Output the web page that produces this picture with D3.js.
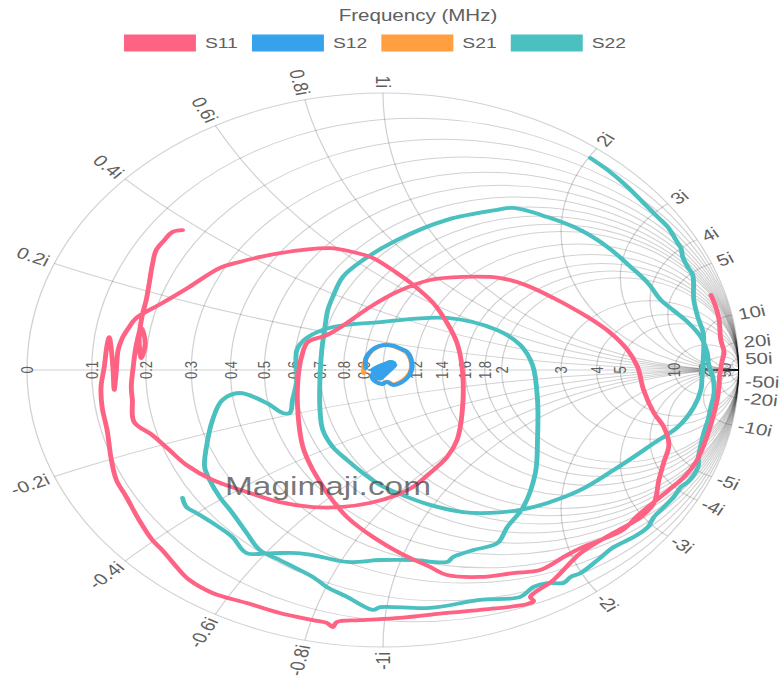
<!DOCTYPE html>
<html>
<head>
<meta charset="utf-8">
<script src="https://cdn.jsdelivr.net/npm/d3@7"></script>
<style>
  html, body { margin: 0; padding: 0; background: #fff; overflow: hidden; }
  text { font-family: "Liberation Sans", Arial, Helvetica, sans-serif; }
</style>
</head>
<body>
<svg id="chart"></svg>
<script>
// ---- Series and axis values (reflection coefficient, [real, imaginary]) ----
const seriesNames  = ["S11", "S12", "S21", "S22"];
const seriesColors = ["#ff6384", "#36a2eb", "#ff9f40", "#4bc0c0"];
const chartTitle = "Frequency (MHz)";
const watermark = "Magimaji.com";

const resistanceTicks = [0, 0.1, 0.2, 0.3, 0.4, 0.5, 0.6, 0.7, 0.8, 0.9, 1, 1.2, 1.4, 1.6, 1.8, 2, 3, 4, 5, 10, 20, 50];
const reactanceTicks  = [0.2, 0.4, 0.6, 0.8, 1, 2, 3, 4, 5, 10, 20, 50];

const s11 = [
  [0.921,0.271],[0.935,0.227],[0.944,0.181],[0.949,0.108],[0.958,0.065],[0.952,0.029],[0.946,-0.018],[0.941,-0.090],
  [0.930,-0.155],[0.918,-0.209],[0.901,-0.271],[0.879,-0.332],[0.848,-0.383],[0.803,-0.433],[0.758,-0.480],[0.718,-0.523],
  [0.673,-0.578],[0.611,-0.614],[0.555,-0.643],[0.513,-0.671],[0.442,-0.722],[0.366,-0.733],[0.273,-0.747],[0.180,-0.740],
  [0.132,-0.711],[0.048,-0.661],[-0.028,-0.603],[-0.101,-0.531],[-0.149,-0.458],[-0.197,-0.361],[-0.225,-0.278],[-0.239,-0.155],
  [-0.239,-0.036],[-0.228,0.051],[-0.211,0.101],[-0.158,0.126],[-0.101,0.170],[-0.037,0.227],[0.039,0.282],[0.132,0.325],
  [0.225,0.336],[0.330,0.332],[0.400,0.307],[0.479,0.260],[0.575,0.191],[0.639,0.134],[0.687,0.072],[0.715,0.011],
  [0.732,-0.072],[0.761,-0.155],[0.789,-0.206],[0.803,-0.271],[0.789,-0.332],[0.775,-0.397],[0.761,-0.480],[0.724,-0.531],
  [0.648,-0.588],[0.555,-0.661],[0.479,-0.758],[0.414,-0.819],[0.423,-0.834],[0.406,-0.845],[0.273,-0.866],[0.180,-0.877],
  [0.048,-0.895],[-0.065,-0.903],[-0.130,-0.910],[-0.141,-0.928],[-0.158,-0.913],[-0.197,-0.903],[-0.290,-0.877],[-0.383,-0.841],
  [-0.479,-0.805],[-0.544,-0.758],[-0.580,-0.711],[-0.620,-0.650],[-0.648,-0.614],[-0.685,-0.542],[-0.721,-0.458],[-0.749,-0.397],
  [-0.763,-0.325],[-0.775,-0.217],[-0.789,-0.134],[-0.792,-0.061],
  [-0.783,0.011],[-0.775,0.090],[-0.769,0.119],[-0.763,0.072],[-0.758,-0.007],[-0.755,-0.072],[-0.749,0.000],[-0.744,0.072],
  [-0.732,0.116],[-0.713,0.155],[-0.693,0.188],
  [-0.620,0.242],[-0.544,0.300],[-0.459,0.368],[-0.403,0.390],[-0.290,0.422],[-0.149,0.440],[-0.085,0.426],[-0.028,0.404],
  [0.039,0.350],[0.085,0.307],[0.141,0.242],[0.180,0.170],[0.208,0.097],[0.223,0.000],[0.223,-0.144],[0.208,-0.253],
  [0.180,-0.314],[0.132,-0.372],[0.085,-0.422],[0.039,-0.451],[-0.037,-0.480],[-0.121,-0.495],[-0.197,-0.495],[-0.290,-0.477],
  [-0.383,-0.440],[-0.479,-0.397],[-0.552,-0.343],[-0.600,-0.289],[-0.648,-0.235],[-0.699,-0.188],[-0.704,-0.108],[-0.707,-0.061],
  [-0.701,0.018],[-0.693,0.090],[-0.679,0.152],[-0.668,0.097],[-0.679,0.043],[-0.685,0.116],[-0.676,0.199],[-0.665,0.253],
  [-0.656,0.318],[-0.648,0.379],[-0.637,0.433],[-0.614,0.469],[-0.592,0.498],[-0.563,0.505]
];

const s12 = [
  [-0.048,0.007],[-0.048,0.043],[-0.031,0.072],[-0.011,0.087],[0.008,0.090],[0.031,0.087],[0.051,0.076],[0.068,0.065],
  [0.079,0.040],[0.082,0.011],[0.076,-0.014],[0.065,-0.032],[0.048,-0.047],[0.028,-0.054],[0.011,-0.043],[-0.003,-0.051],
  [-0.020,-0.043],[-0.031,-0.025],[-0.023,-0.004],[-0.003,0.014],[0.020,0.029],[0.031,0.025],[0.014,0.007],[-0.006,-0.011],
  [-0.017,-0.022],[0.003,0.004],[0.023,0.018],[0.008,-0.004],
  [-0.028,-0.014],[0.025,0.029],[-0.017,-0.029],[0.034,0.018],[-0.008,-0.032],[0.020,0.004],[-0.031,0.000],[0.014,0.025],
  [-0.020,-0.018],[0.028,0.011]
];

const s21 = [
  [-0.054,-0.011],[-0.052,0.025],[-0.031,0.070],[-0.011,0.085],[0.010,0.092],[0.031,0.085],[0.051,0.074],[0.066,0.063],
  [0.077,0.040],[0.080,0.011],[0.074,-0.014],[0.063,-0.030],[0.046,-0.045],[0.028,-0.052],[0.011,-0.042],[-0.003,-0.049],
  [-0.020,-0.041],[-0.031,-0.025]
];

const s22 = [
  [0.583,0.765],[0.631,0.722],[0.687,0.661],[0.732,0.603],[0.772,0.552],[0.800,0.516],[0.828,0.458],[0.837,0.440],
  [0.842,0.408],[0.856,0.372],[0.870,0.343],[0.873,0.253],[0.885,0.188],[0.899,0.137],[0.901,0.083],[0.899,0.029],
  [0.896,-0.029],
  [0.893,-0.072],[0.873,-0.134],[0.828,-0.206],[0.761,-0.264],[0.704,-0.314],[0.648,-0.361],[0.555,-0.433],[0.462,-0.480],
  [0.386,-0.505],[0.301,-0.516],[0.225,-0.513],[0.132,-0.487],[0.048,-0.448],[-0.008,-0.415],[-0.056,-0.372],[-0.101,-0.325],
  [-0.141,-0.278],[-0.169,-0.217],[-0.177,-0.144],[-0.177,-0.025],[-0.172,0.072],[-0.163,0.155],[-0.155,0.217],[-0.141,0.264],
  [-0.113,0.336],[-0.056,0.397],[0.039,0.469],[0.180,0.542],[0.321,0.578],[0.366,0.585],[0.462,0.552],[0.555,0.505],
  [0.631,0.444],[0.696,0.372],[0.744,0.314],[0.780,0.253],[0.814,0.217],[0.856,0.173],[0.893,0.119],[0.910,0.065],
  [0.915,0.018],[0.927,-0.029],[0.930,-0.083],[0.921,-0.134],[0.913,-0.181],[0.901,-0.227],[0.893,-0.271],[0.887,-0.307],
  [0.885,-0.350],[0.873,-0.379],[0.856,-0.404],[0.837,-0.422],
  [0.817,-0.458],[0.789,-0.495],[0.761,-0.531],[0.744,-0.567],[0.704,-0.603],[0.648,-0.639],[0.603,-0.686],[0.555,-0.733],
  [0.527,-0.747],[0.507,-0.769],[0.462,-0.769],[0.423,-0.783],[0.386,-0.819],[0.273,-0.830],[0.132,-0.859],[-0.008,-0.856],
  [-0.028,-0.866],[-0.101,-0.819],[-0.158,-0.783],[-0.197,-0.747],[-0.234,-0.722],[-0.290,-0.686],[-0.346,-0.650],[-0.383,-0.588],
  [-0.423,-0.516],[-0.459,-0.458],[-0.487,-0.397],[-0.501,-0.350],[-0.496,-0.278],[-0.479,-0.181],[-0.451,-0.108],[-0.403,-0.083],
  [-0.327,-0.119],[-0.282,-0.155],[-0.262,-0.155],[-0.254,-0.108],[-0.242,-0.036],[-0.242,0.072],[-0.214,0.116],[-0.141,0.155],
  [-0.008,0.173],[0.180,0.188],[0.321,0.144],[0.386,0.090],[0.420,0.018],[0.434,-0.108],[0.434,-0.253],[0.428,-0.372],
  [0.394,-0.495],[0.349,-0.567],[0.321,-0.625],[0.254,-0.650],[0.197,-0.675],[0.180,-0.693],[0.085,-0.686],[-0.008,-0.686],
  [-0.101,-0.693],[-0.197,-0.668],[-0.242,-0.661],[-0.310,-0.661],[-0.383,-0.661],[-0.423,-0.603],[-0.479,-0.552],[-0.524,-0.516],
  [-0.552,-0.495],[-0.563,-0.462]
];

// ---- Layout: the chart is drawn round and the whole canvas is stretched sideways ----
const SX = 356 / 277;          // horizontal stretch of the canvas
const H = 678, W = 782 / SX;
const cx = 383 / SX, cy = 370, R = 277;

const svg = d3.select("#chart")
  .attr("width", 782).attr("height", H)
  .attr("viewBox", `0 0 ${W} ${H}`)
  .attr("preserveAspectRatio", "none");

const gx = d3.scaleLinear().domain([-1, 1]).range([cx - R, cx + R]);
const gy = d3.scaleLinear().domain([-1, 1]).range([cy + R, cy - R]);

svg.append("defs").append("clipPath").attr("id", "unit")
  .append("circle").attr("cx", gx(0)).attr("cy", gy(0)).attr("r", R);

// ---- Grid ----
const gridColor = "rgba(0,0,0,0.18)";
const grid = svg.append("g").attr("clip-path", "url(#unit)")
  .attr("fill", "none").attr("stroke", gridColor).attr("stroke-width", 1);

// constant-resistance circles
grid.selectAll("circle.res").data(resistanceTicks.filter(r => r > 0)).join("circle")
  .attr("class", "res")
  .attr("cx", r => gx(r / (1 + r))).attr("cy", gy(0))
  .attr("r", r => gx(1 / (1 + r)) - gx(0));

// constant-reactance arcs
const reactAll = reactanceTicks.flatMap(x => [x, -x]);
grid.selectAll("circle.react").data(reactAll).join("circle")
  .attr("class", "react")
  .attr("cx", gx(1)).attr("cy", x => gy(1 / x))
  .attr("r", x => gx(1 / Math.abs(x)) - gx(0));

// real axis
grid.append("line")
  .attr("x1", gx(-1)).attr("x2", gx(1)).attr("y1", gy(0)).attr("y2", gy(0));

// outer rim
svg.append("circle").attr("cx", gx(0)).attr("cy", gy(0)).attr("r", R)
  .attr("fill", "none").attr("stroke", gridColor).attr("stroke-width", 1);

// ---- Real-axis labels ----
const labelColor = "#606060";
svg.append("g").selectAll("text").data(resistanceTicks).join("text")
  .attr("transform", r => `translate(${gx((r - 1) / (r + 1))},${gy(0)}) rotate(-90)`)
  .attr("text-anchor", "middle").attr("dominant-baseline", "central")
  .attr("font-size", 13).attr("fill", labelColor)
  .text(r => String(r));

// ---- Rim (reactance) labels ----
const pad = 5;
svg.append("g").selectAll("text").data(reactAll).join("text")
  .each(function (x) {
    const re = (x * x - 1) / (x * x + 1), im = 2 * x / (x * x + 1);
    const dx = re, dy = -im;
    const lx = gx(0) + (R + pad) * dx, ly = gy(0) + (R + pad) * dy;
    let ang = Math.atan2(dy, dx) * 180 / Math.PI;
    let anchor = "start";
    if (re <= 1e-9) { ang += 180; anchor = "end"; }
    d3.select(this)
      .attr("transform", `translate(${lx},${ly}) rotate(${ang})`)
      .attr("text-anchor", anchor);
  })
  .attr("dominant-baseline", "central")
  .attr("font-size", 16).attr("fill", labelColor)
  .text(x => String(x) + "i");

// ---- Series ----
const line = d3.line().x(d => gx(d[0])).y(d => gy(d[1])).curve(d3.curveCatmullRom.alpha(0.5));
const seriesData = [s11, s12, s21, s22];
const drawOrder = [3, 2, 1, 0];   // first series ends up on top
svg.append("g").selectAll("path").data(drawOrder).join("path")
  .attr("d", i => line(seriesData[i]))
  .attr("fill", "none")
  .attr("stroke", i => seriesColors[i])
  .attr("stroke-width", 3.8)
  .attr("stroke-linejoin", "round").attr("stroke-linecap", "round");

// ---- Watermark ----
svg.append("text")
  .attr("x", 328 / SX).attr("y", 495)
  .attr("text-anchor", "middle")
  .attr("font-size", 26).attr("fill", "#444").attr("fill-opacity", 0.72)
  .text(watermark);

// ---- Title ----
svg.append("text")
  .attr("x", 418 / SX).attr("y", 15)
  .attr("text-anchor", "middle").attr("dominant-baseline", "central")
  .attr("font-size", 16).attr("fill", labelColor)
  .text(chartTitle);

// ---- Legend ----
const boxW = 56, boxH = 17, gap = 7, itemPad = 11, legendY = 43;
const legend = svg.append("g");
const items = legend.selectAll("g").data(seriesNames).join("g");
items.append("rect")
  .attr("width", boxW).attr("height", boxH).attr("y", legendY - boxH / 2)
  .attr("fill", (d, i) => seriesColors[i]);
items.append("text")
  .attr("x", boxW + gap).attr("y", legendY)
  .attr("dominant-baseline", "central")
  .attr("font-size", 15).attr("fill", labelColor)
  .text(d => d);
const widths = [];
items.each(function () { widths.push(boxW + gap + d3.select(this).select("text").node().getComputedTextLength()); });
const total = d3.sum(widths) + itemPad * (widths.length - 1);
let xpos = 375 / SX - total / 2;
items.attr("transform", (d, i) => { const t = `translate(${xpos},0)`; xpos += widths[i] + itemPad; return t; });
</script>
</body>
</html>
